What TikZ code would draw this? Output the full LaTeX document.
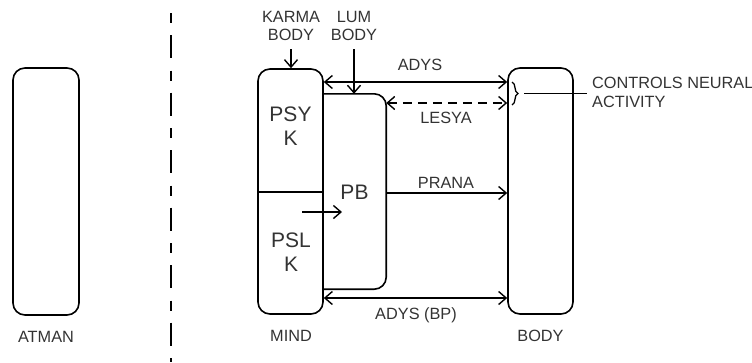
\documentclass[tikz,border=0pt]{standalone}
\usepackage{fontspec}
\setmainfont{Liberation Sans}
\usetikzlibrary{arrows.meta,decorations.pathreplacing,calc}
\begin{document}
\begin{tikzpicture}[x=1pt,y=-1pt,
  box/.style={draw, line width=1.6pt, rounded corners=12pt, inner sep=0pt},
  lbl/.style={font=\fontsize{16.3}{18}\selectfont, text=black!80, align=center, inner sep=0pt},
  big/.style={font=\fontsize{21}{24}\selectfont, text=black!80, align=center, inner sep=0pt},
  conn/.style={line width=1.4pt, -{Straight Barb[length=7.5pt,width=13pt]}},
  dconn/.style={line width=1.4pt, {Straight Barb[length=7.5pt,width=13pt]}-{Straight Barb[length=7.5pt,width=13pt]}},
  sep/.style={line width=1.5pt, dash pattern=on 10pt off 12pt on 23pt off 12.5pt}]
\useasboundingbox (0,0) rectangle (752,362);

% boxes
\node[box, minimum width=66pt, minimum height=247pt] (atman) at (46,191.5) {};
\node[box, minimum width=65pt, minimum height=245pt] (mind) at (290.5,191.5) {};
\node[box, minimum width=65pt, minimum height=246pt] (body) at (540.5,191) {};
\node[inner sep=0pt, minimum width=63pt, minimum height=195pt] (pb) at (354.5,191.5) {};
\draw[line width=1.6pt, rounded corners=12pt] (pb.north west) -- (pb.north east) -- (pb.south east) -- (pb.south west);

% divider inside mind
\coordinate (ydiv) at (0,192);
\draw[line width=1.6pt] (mind.west |- ydiv) -- (mind.east |- ydiv);

% separator
\coordinate (septop) at (171,13);
\coordinate (sepbot) at (171,362);
\draw[sep] (septop) -- (sepbot);

% texts
\node[lbl] (karma) at (291,26) {KARMA\\BODY};
\node[lbl] (lum) at (354,26) {LUM\\BODY};
\node[big] (psy) at (290.5,126) {PSY\\K};
\node[big] (psl) at (291,252) {PSL\\K};
\node[big] (pbl) at (354.5,192) {PB};
\node[lbl] (adys) at (420,64.5) {ADYS};
\node[lbl] (lesya) at (446,118) {LESYA};
\node[lbl] (prana) at (446,182.5) {PRANA};
\node[lbl] (adysbp) at (416,315) {ADYS (BP)};
\node[lbl] (atmanl) at (46,337) {ATMAN};
\node[lbl] (mindl) at (291,336) {MIND};
\node[lbl] (bodyl) at (540.5,336) {BODY};
\node[lbl, font=\fontsize{16.3}{19}\selectfont, align=left, anchor=west] (ctrl) at (592,92.5) {CONTROLS NEURAL\\ACTIVITY};

% vertical inputs
\coordinate (kt) at (291,49);
\coordinate (lt) at (354,49);
\draw[conn] (kt) -- (kt |- mind.north);
\draw[conn] (lt) -- (lt |- pb.north);

% horizontal connectors
\coordinate (y1) at (0,82);
\coordinate (y2) at (0,103);
\coordinate (y3) at (0,193);
\coordinate (y4) at (0,298);
\draw[dconn] (mind.east |- y1) -- (body.west |- y1);
\draw[dconn, dash pattern=on 9pt off 6pt] (pb.east |- y2) -- (body.west |- y2);
\draw[conn] (pb.east |- y3) -- (body.west |- y3);
\draw[dconn] (mind.east |- y4) -- (body.west |- y4);

% small arrow PSL -> PB
\coordinate (sa) at (302,212);
\coordinate (sb) at (342,212);
\draw[conn] (sa) -- (sb);

% brace
\coordinate (bt) at (512,82);
\coordinate (bb) at (512,105);
\draw[line width=1.3pt, decorate, decoration={brace, amplitude=6pt}] (bt) -- (bb);
\coordinate (ls) at (524,93.5);
\coordinate (le) at (587,93.5);
\draw[line width=1.4pt] (ls) -- (le);
\end{tikzpicture}
\end{document}
